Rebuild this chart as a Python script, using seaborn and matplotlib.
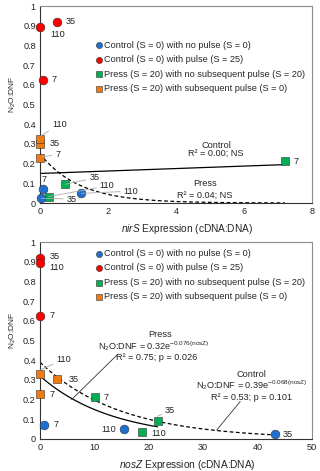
import numpy as np
import pandas as pd
import seaborn as sns
import matplotlib.pyplot as plt

# ---- data ----
groups = ['Control (S = 0) with no pulse (S = 0)',
          'Control (S = 0) with pulse (S = 25)',
          'Press (S = 20) with no subsequent pulse (S = 20)',
          'Press (S = 20) with subsequent pulse (S = 0)']
colors = ['#1F6FD0', '#FF0000', '#00B050', '#F07A10']
markers = ['o', 'o', 's', 's']

# nirS panel
nirs_blue_x = [0.08, 0.03, 1.22]
nirs_blue_y = [0.07, 0.024, 0.049]
nirs_red_x = [0.08, 0.49, 0.0]
nirs_red_y = [0.625, 0.92, 0.893]
nirs_green_x = [7.2, 0.74, 0.25]
nirs_green_y = [0.212, 0.095, 0.032]
nirs_orange_x = [0.0, 0.0, 0.0]
nirs_orange_y = [0.227, 0.302, 0.327]
days = ['7', '35', '110']

# nosZ panel
nosz_blue_x = [0.8, 43.2, 15.4]
nosz_blue_y = [0.071, 0.025, 0.049]
nosz_red_x = [0.0, 0.0, 0.0]
nosz_red_y = [0.626, 0.917, 0.892]
nosz_green_x = [10.1, 21.6, 18.7]
nosz_green_y = [0.211, 0.093, 0.034]
nosz_orange_x = [0.0, 3.1, 0.0]
nosz_orange_y = [0.227, 0.303, 0.328]

# fitted trend lines
nirs_ctrl_int, nirs_ctrl_slope = 0.15, 0.00625
nirs_press_a, nirs_press_b = 0.25, -0.87
nosz_press_a, nosz_press_b = 0.32, -0.076
nosz_ctrl_a, nosz_ctrl_b = 0.39, -0.068

sns.set_style('white')
plt.rcParams['font.family'] = ['Liberation Sans', 'DejaVu Sans']
plt.rcParams['mathtext.fontset'] = 'custom'
plt.rcParams['mathtext.rm'] = 'Liberation Sans'
plt.rcParams['mathtext.it'] = 'Liberation Sans:italic'
FS = 6.6


def build_df(xs, ys):
    rows = []
    for g, x, y in zip(groups, xs, ys):
        for d, xi, yi in zip(days, x, y):
            rows.append({'group': g, 'x': xi, 'y': yi, 'day': d})
    return pd.DataFrame(rows)


def draw_points(ax, df):
    for g, c, m in zip(groups, colors, markers):
        sub = df[df.group == g]
        sns.scatterplot(data=sub, x='x', y='y', color=c, marker=m, s=40,
                        edgecolor='#333333', linewidth=0.4, ax=ax, label=g,
                        zorder=5, clip_on=False)


def style_axes(ax, xmax, xstep, xlabel, leg_top):
    ax.set_xlim(0, xmax)
    ax.set_ylim(0, 1)
    ax.set_xticks(np.arange(0, xmax + xstep / 2, xstep))
    ax.set_yticks(np.arange(0, 1.01, 0.1))
    ax.set_yticklabels(['0'] + ['%.1f' % v for v in np.arange(0.1, 0.95, 0.1)] + ['1'])
    ax.tick_params(labelsize=FS, length=0, pad=3, colors='#222222')
    ax.set_xlabel(xlabel, fontsize=7.3, labelpad=2)
    ax.xaxis.set_label_coords(0.54, -0.095)
    ax.set_ylabel(r'N$_2$O:DNF', fontsize=6.0)
    ax.yaxis.set_label_coords(-0.08, 0.55)
    for s in ['left', 'bottom']:
        ax.spines[s].set_color('#333333')
        ax.spines[s].set_linewidth(0.8)
    for s in ['top', 'right']:
        ax.spines[s].set_color('#8c8c8c')
        ax.spines[s].set_linewidth(0.8)
    ax.legend(loc='upper left', bbox_to_anchor=(0.2, leg_top), frameon=False,
              fontsize=FS, handletextpad=0.0, handlelength=1.0, labelspacing=0.6,
              borderpad=0, borderaxespad=0, markerscale=0.7)


def label(ax, txt, xy, xytext, lead=False, ha='left'):
    kw = {}
    if lead:
        kw['arrowprops'] = dict(arrowstyle='-', color='#aaaaaa', lw=0.6,
                                shrinkA=0, shrinkB=0)
    ax.annotate(txt, xy=xy, xytext=xytext, fontsize=FS, ha=ha, va='center',
                color='#222222', zorder=6, **kw)


fig = plt.figure(figsize=(3.2, 4.71), dpi=100)
ax1 = fig.add_axes([0.125, 0.569, 0.85, 0.418])
ax2 = fig.add_axes([0.125, 0.068, 0.85, 0.418])

# ---- top panel: nirS ----
xs = np.linspace(0, 7.2, 100)
sns.lineplot(x=xs, y=nirs_ctrl_int + nirs_ctrl_slope * xs, color='black', lw=0.9, ax=ax1)
sns.lineplot(x=xs, y=nirs_press_a * np.exp(nirs_press_b * xs), color='black', lw=0.9,
             ax=ax1, linestyle=(0, (3, 2)))
df1 = build_df([nirs_blue_x, nirs_red_x, nirs_green_x, nirs_orange_x],
               [nirs_blue_y, nirs_red_y, nirs_green_y, nirs_orange_y])
draw_points(ax1, df1)
style_axes(ax1, 8, 2, r'$\it{nirS}$ Expression (cDNA:DNA)', 0.825)

label(ax1, '35', (0.49, 0.92), (0.75, 0.92))
label(ax1, '110', (0, 0.89), (0.3, 0.855))
label(ax1, '7', (0.08, 0.625), (0.35, 0.625))
label(ax1, '110', (0.02, 0.34), (0.35, 0.40), lead=True)
label(ax1, '35', (0, 0.30), (0.3, 0.30))
label(ax1, '7', (0.05, 0.235), (0.45, 0.245), lead=True)
label(ax1, '7', (7.2, 0.21), (7.45, 0.21))
label(ax1, '7', (0.08, 0.07), (0.05, 0.12))
label(ax1, '35', (0.74, 0.095), (1.45, 0.127), lead=True)
label(ax1, '110', (0.25, 0.032), (1.75, 0.087), lead=True)
label(ax1, '110', (1.22, 0.049), (2.45, 0.06), lead=True)
label(ax1, '35', (0.03, 0.024), (0.78, 0.02), lead=True)
ax1.text(5.18, 0.29, 'Control', fontsize=FS, ha='center', va='center')
ax1.text(5.18, 0.25, 'R² = 0.00; NS', fontsize=FS, ha='center', va='center')
ax1.text(4.85, 0.10, 'Press', fontsize=FS, ha='center', va='center')
ax1.text(4.85, 0.04, 'R² = 0.04; NS', fontsize=FS, ha='center', va='center')

# ---- bottom panel: nosZ ----
xp = np.linspace(0, 21.6, 100)
xc = np.linspace(0, 43.2, 100)
sns.lineplot(x=xp, y=nosz_press_a * np.exp(nosz_press_b * xp), color='black', lw=0.9, ax=ax2)
sns.lineplot(x=xc, y=nosz_ctrl_a * np.exp(nosz_ctrl_b * xc), color='black', lw=0.9,
             ax=ax2, linestyle=(0, (3, 2)))
df2 = build_df([nosz_blue_x, nosz_red_x, nosz_green_x, nosz_orange_x],
               [nosz_blue_y, nosz_red_y, nosz_green_y, nosz_orange_y])
draw_points(ax2, df2)
style_axes(ax2, 50, 10, r'$\it{nosZ}$ Expression (cDNA:DNA)', 0.965)

label(ax2, '35', (0, 0.917), (1.8, 0.925))
label(ax2, '110', (0, 0.892), (1.8, 0.87))
label(ax2, '7', (0, 0.626), (1.8, 0.626))
label(ax2, '110', (0, 0.35), (3.0, 0.405), lead=True)
label(ax2, '35', (3.1, 0.303), (5.2, 0.30))
label(ax2, '7', (0, 0.227), (1.8, 0.227))
label(ax2, '7', (10.1, 0.211), (11.7, 0.211))
label(ax2, '35', (21.6, 0.115), (23.0, 0.147), lead=True)
label(ax2, '110', (18.7, 0.034), (20.4, 0.030))
label(ax2, '110', (15.4, 0.049), (14.0, 0.049), ha='right')
label(ax2, '7', (0.8, 0.071), (2.4, 0.071))
label(ax2, '35', (43.2, 0.025), (44.7, 0.025))

ax2.text(22.0, 0.53, 'Press', fontsize=FS, ha='center', va='center')
ax2.text(21.0, 0.472, r'N$_2$O:DNF = 0.32e$^{\mathregular{-0.076(nosZ)}}$', fontsize=FS,
         ha='center', va='center')
ax2.text(21.5, 0.414, 'R² = 0.75; p = 0.026', fontsize=FS, ha='center', va='center')
ax2.annotate('', xy=(5.8, 0.2), xytext=(14.1, 0.425),
             arrowprops=dict(arrowstyle='-', color='#333333', lw=0.6, shrinkA=0, shrinkB=0))

ax2.text(38.9, 0.33, 'Control', fontsize=FS, ha='center', va='center')
ax2.text(38.9, 0.272, r'N$_2$O:DNF = 0.39e$^{\mathregular{-0.068(nosZ)}}$', fontsize=FS,
         ha='center', va='center')
ax2.text(38.9, 0.213, 'R² = 0.53; p = 0.101', fontsize=FS, ha='center', va='center')
ax2.annotate('', xy=(32.5, 0.046), xytext=(36.8, 0.19),
             arrowprops=dict(arrowstyle='-', color='#333333', lw=0.6, shrinkA=0, shrinkB=0))

fig.savefig('out.png', dpi=100)
